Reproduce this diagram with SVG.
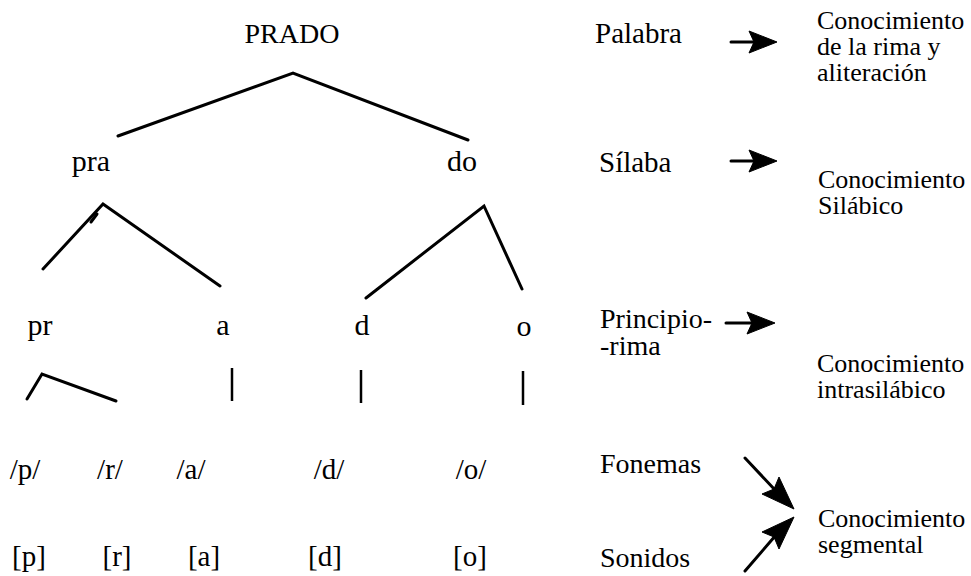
<svg xmlns="http://www.w3.org/2000/svg" width="971" height="576" viewBox="0 0 971 576">
  <style>
    .ln { stroke: #000; stroke-width: 3; fill: none; stroke-linecap: round; }
    .bar { stroke: #000; stroke-width: 2.5; fill: none; }
    .head { fill: #000; stroke: #000; stroke-width: 1; stroke-linejoin: round; }
  </style>
  <rect width="971" height="576" fill="#fff"/>

  <!-- tree nodes -->
  <g id="n-prado"><text font-family="'Liberation Serif', serif" font-size="28" x="292" y="43" text-anchor="middle">PRADO</text></g>
  <g id="n-pra"><text font-family="'Liberation Serif', serif" font-size="30" x="91" y="171" text-anchor="middle">pra</text></g>
  <g id="n-do"><text font-family="'Liberation Serif', serif" font-size="30" x="462" y="171" text-anchor="middle">do</text></g>
  <g id="n-pr"><text font-family="'Liberation Serif', serif" font-size="30" x="40" y="335" text-anchor="middle">pr</text></g>
  <g id="n-a"><text font-family="'Liberation Serif', serif" font-size="30" x="223" y="335" text-anchor="middle">a</text></g>
  <g id="n-d"><text font-family="'Liberation Serif', serif" font-size="30" x="362" y="335" text-anchor="middle">d</text></g>
  <g id="n-o"><text font-family="'Liberation Serif', serif" font-size="30" x="524" y="336" text-anchor="middle">o</text></g>

  <g id="n-phonemes">
    <text font-family="'Liberation Serif', serif" font-size="29" x="25" y="479" text-anchor="middle">/p/</text>
    <text font-family="'Liberation Serif', serif" font-size="29" x="110" y="479" text-anchor="middle">/r/</text>
    <text font-family="'Liberation Serif', serif" font-size="29" x="191" y="479" text-anchor="middle">/a/</text>
    <text font-family="'Liberation Serif', serif" font-size="29" x="329" y="479" text-anchor="middle">/d/</text>
    <text font-family="'Liberation Serif', serif" font-size="29" x="471" y="479" text-anchor="middle">/o/</text>
  </g>
  <g id="n-sounds">
    <text font-family="'Liberation Serif', serif" font-size="29" x="29" y="566" text-anchor="middle">[p]</text>
    <text font-family="'Liberation Serif', serif" font-size="29" x="117" y="566" text-anchor="middle">[r]</text>
    <text font-family="'Liberation Serif', serif" font-size="29" x="204" y="566" text-anchor="middle">[a]</text>
    <text font-family="'Liberation Serif', serif" font-size="29" x="325" y="566" text-anchor="middle">[d]</text>
    <text font-family="'Liberation Serif', serif" font-size="29" x="470" y="566" text-anchor="middle">[o]</text>
  </g>

  <!-- level labels -->
  <g id="lvl-palabra"><text font-family="'Liberation Serif', serif" font-size="29" x="595" y="43">Palabra</text></g>
  <g id="lvl-silaba"><text font-family="'Liberation Serif', serif" font-size="29" x="599" y="172">Sílaba</text></g>
  <g id="lvl-principio">
    <text font-family="'Liberation Serif', serif" font-size="28" x="600" y="328">Principio-</text>
    <text font-family="'Liberation Serif', serif" font-size="28" x="600" y="355">-rima</text>
  </g>
  <g id="lvl-fonemas"><text font-family="'Liberation Serif', serif" font-size="28" x="600" y="473">Fonemas</text></g>
  <g id="lvl-sonidos"><text font-family="'Liberation Serif', serif" font-size="28" x="600" y="567">Sonidos</text></g>

  <!-- awareness types -->
  <g id="k-rima">
    <text font-family="'Liberation Serif', serif" font-size="26" x="817" y="29">Conocimiento</text>
    <text font-family="'Liberation Serif', serif" font-size="26" x="817" y="55">de la rima y</text>
    <text font-family="'Liberation Serif', serif" font-size="26" x="817" y="81">aliteración</text>
  </g>
  <g id="k-silabico">
    <text font-family="'Liberation Serif', serif" font-size="26" x="818" y="188">Conocimiento</text>
    <text font-family="'Liberation Serif', serif" font-size="26" x="818" y="214">Silábico</text>
  </g>
  <g id="k-intra">
    <text font-family="'Liberation Serif', serif" font-size="26" x="817" y="372">Conocimiento</text>
    <text font-family="'Liberation Serif', serif" font-size="26" x="817" y="398">intrasilábico</text>
  </g>
  <g id="k-segmental">
    <text font-family="'Liberation Serif', serif" font-size="26" x="818" y="527">Conocimiento</text>
    <text font-family="'Liberation Serif', serif" font-size="26" x="818" y="553">segmental</text>
  </g>

  <!-- connectors -->
  <g id="connectors">
    <polyline class="ln" points="118,136 293,73 468,140"/>
    <polyline class="ln" points="43,269 103,204 220,286"/>
    <path class="ln" d="M91,222 L97,214"/>
    <polyline class="ln" points="366,298 484,206 522,289"/>
    <polyline class="ln" points="27,399 42,374 116,401"/>
    <line class="bar" x1="232" y1="368" x2="232" y2="401"/>
    <line class="bar" x1="361" y1="370" x2="361" y2="403"/>
    <line class="bar" x1="523" y1="371" x2="523" y2="405"/>

    <!-- horizontal arrows: shaft + filled head -->
    <line class="ln" x1="731" y1="42" x2="756" y2="42"/>
    <polygon class="head" points="777,42 749,31 754,42 749,53"/>
    <line class="ln" x1="731" y1="161" x2="756" y2="161"/>
    <polygon class="head" points="777,161 749,150 754,161 749,172"/>
    <line class="ln" x1="726" y1="323" x2="753" y2="323"/>
    <polygon class="head" points="775,323 747,312 752,323 747,334"/>

    <!-- converging arrows -->
    <line class="ln" x1="745" y1="458" x2="776" y2="491"/>
    <polygon class="head" points="794,509 762,494 774,489 779,477"/>
    <line class="ln" x1="745" y1="571" x2="776" y2="535"/>
    <polygon class="head" points="794,517 779,549 774,537 762,532"/>
  </g>
</svg>
